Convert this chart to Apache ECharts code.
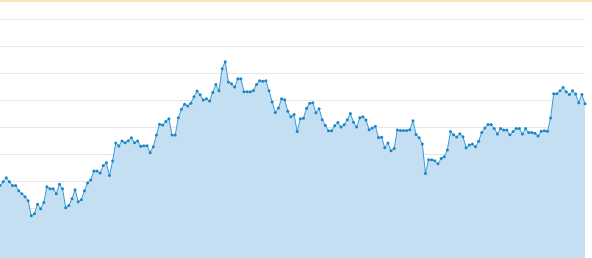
<!DOCTYPE html>
<html>
<head>
<meta charset="utf-8">
<script src="https://cdn.jsdelivr.net/npm/echarts@6/dist/echarts.min.js"></script>
<style>
  html, body { margin: 0; padding: 0; background: #ffffff; overflow: hidden; }
  #wrap { position: relative; width: 592px; height: 258px; overflow: hidden; }
  #topline { position: absolute; left: 0; top: 0; width: 592px; height: 2px; background: #f6e8b6; z-index: 2; }
  #chart { position: absolute; left: 0; top: 0; width: 592px; height: 300px; }
</style>
</head>
<body>
<div id="wrap">
  <div id="topline"></div>
  <div id="chart"></div>
</div>
<script>
// Series values (arbitrary scale 0..100, gridline every 10)
const values = [
  38.3, 39.7, 41.2, 39.7, 38.3, 38.3, 36.4, 35.3, 34.2, 32.7,
  27.1, 27.9, 31.4, 29.7, 32.0, 37.9, 37.1, 37.1, 35.3, 38.8,
  37.1, 30.1, 30.9, 33.4, 36.8, 32.3, 33.1, 36.4, 39.3, 40.4,
  43.7, 43.7, 43.0, 45.7, 46.8, 42.0, 47.4, 54.1, 53.0, 54.8,
  54.2, 54.9, 56.0, 54.2, 54.8, 52.9, 53.1, 53.1, 50.5, 52.7,
  57.0, 61.0, 60.7, 62.0, 63.1, 57.0, 57.0, 63.4, 66.6, 68.4,
  67.8, 68.8, 71.2, 73.3, 71.9, 70.0, 70.5, 69.6, 72.8, 75.7,
  73.4, 81.6, 84.2, 76.7, 76.0, 74.8, 77.9, 77.9, 73.1, 73.1,
  73.1, 73.5, 75.7, 77.1, 76.9, 77.1, 73.4, 69.3, 65.4, 67.0,
  70.5, 70.1, 65.8, 63.8, 64.6, 58.3, 63.1, 63.2, 66.9, 68.8,
  69.0, 65.3, 66.8, 62.7, 60.6, 58.6, 58.6, 60.5, 61.7, 60.0,
  60.8, 62.7, 65.0, 61.8, 60.0, 63.4, 63.8, 62.6, 59.0, 59.6,
  60.3, 56.1, 56.2, 52.3, 54.1, 51.2, 52.0, 58.9, 58.7, 58.7,
  58.7, 59.0, 62.3, 57.2, 56.0, 53.7, 42.8, 47.9, 47.9, 47.5,
  46.4, 48.3, 49.0, 51.5, 58.3, 57.1, 56.3, 57.5, 56.4, 52.3,
  53.3, 53.7, 52.7, 54.7, 58.0, 59.6, 60.9, 60.9, 59.4, 57.4,
  59.4, 58.9, 58.9, 57.1, 58.3, 59.4, 59.4, 57.4, 59.4, 58.0,
  58.0, 57.7, 56.7, 58.4, 58.6, 58.4, 63.3, 72.3, 72.3, 73.4,
  74.6, 73.1, 72.0, 73.4, 72.2, 69.0, 72.0, 68.6
];

// Categories: one per observation (labels not shown in the reference)
const categories = values.map(function (_, i) { return String(i + 1); });

// Value axis range and step
const yMin = 0;
const yMax = 100;
const yStep = 10;

const chart = echarts.init(document.getElementById('chart'), null, { renderer: 'canvas' });
chart.setOption({
  animation: false,
  backgroundColor: '#ffffff',
  grid: { left: 0, right: 7, top: 19, bottom: 11, containLabel: false },
  xAxis: {
    type: 'category',
    data: categories,
    boundaryGap: false,
    axisLine: { show: false },
    axisTick: { show: false },
    axisLabel: { show: false },
    splitLine: { show: false }
  },
  yAxis: {
    type: 'value',
    min: yMin,
    max: yMax,
    interval: yStep,
    axisLine: { show: false },
    axisTick: { show: false },
    axisLabel: { show: false },
    splitLine: { show: true, lineStyle: { color: '#e6e6e6', width: 1 } }
  },
  series: [{
    type: 'line',
    data: values,
    symbol: 'circle',
    symbolSize: 3,
    showSymbol: true,
    showAllSymbol: true,
    lineStyle: { color: '#3a9ad9', width: 1 },
    itemStyle: { color: '#1a86c8' },
    areaStyle: { color: '#c4dff2', opacity: 1 }
  }]
});
</script>
</body>
</html>
